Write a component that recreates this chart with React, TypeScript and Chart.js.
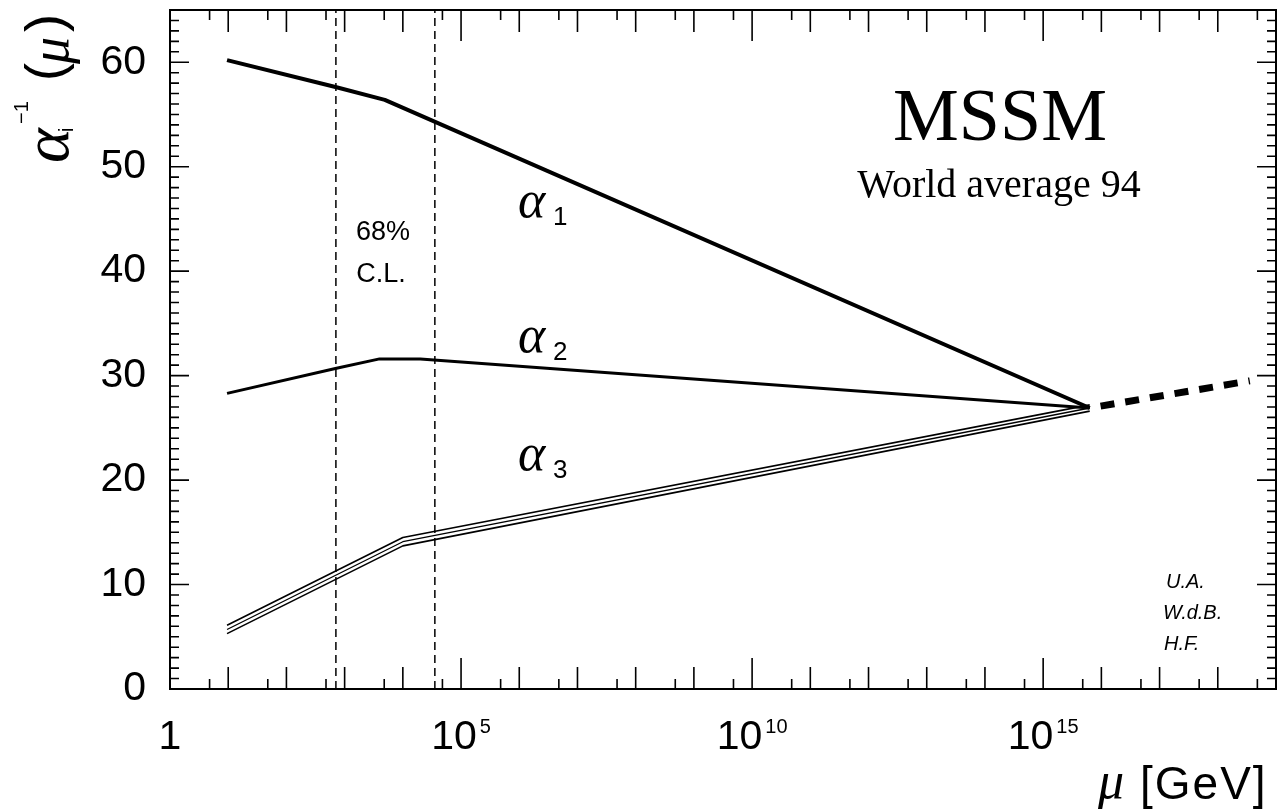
import React, { useEffect, useRef } from 'react';
import { Chart, registerables } from 'chart.js';

Chart.register(...registerables);

// ---- data (x = log10(mu / GeV), y = 1/alpha_i) ----
const LOG_MU_A1 = [0.98, 2.86, 3.69, 15.8];
const INV_ALPHA1 = [60.2, 57.6, 56.4, 26.9];

const LOG_MU_A2 = [0.98, 2.86, 3.6, 4.3, 15.8];
const INV_ALPHA2 = [28.3, 30.7, 31.6, 31.6, 26.9];

const LOG_MU_A3 = [0.98, 4.0, 15.8];
const INV_ALPHA3 = [5.7, 14.1, 26.9];
const INV_ALPHA3_ERR = [0.4, 0.4, 0.3];

const LOG_MU_GUT = [15.8, 18.55];
const INV_ALPHA_GUT = [26.9, 29.5];

const CL_LOG_MU = [2.85, 4.55];

// ---- axes ----
const X_MIN = 0;
const X_MAX = 19;
const Y_MIN = 0;
const Y_MAX = 65;
const Y_TICKS = [0, 10, 20, 30, 40, 50, 60];
const Y_MINOR_STEP = 1;
const X_LABEL_VALUES = [0, 5, 10, 15];
const X_LABEL_BASES = ['1', '10', '10', '10'];
const X_LABEL_EXPONENTS = ['', '5', '10', '15'];
const X_MAJOR_TICKS = [0, 5, 10, 15];
const X_DECADE_TICKS = [1, 2, 3, 4, 6, 7, 8, 9, 11, 12, 13, 14, 16, 17, 18];
const X_MINOR_TICKS = [0.68, 1.68, 2.68, 3.68, 4.68, 5.68, 6.68, 7.68, 8.68, 9.68, 10.68, 11.68, 12.68, 13.68, 14.68, 15.68, 16.68, 17.68, 18.68];

const SANS = '"Liberation Sans", Arial, Helvetica, sans-serif';
const SERIF = '"Liberation Serif", "Times New Roman", serif';

const pts = (xs: number[], ys: number[]) => xs.map((x, i) => ({ x, y: ys[i] }));

const overlayPlugin = {
  id: 'overlay',
  afterDatasetsDraw(chart: any) {
    const { ctx, chartArea: a, scales } = chart;
    const x = scales.x;
    const y = scales.y;
    ctx.save();
    ctx.strokeStyle = '#000';
    ctx.lineWidth = 1.6;
    ctx.beginPath();
    const vt = (v: number, len: number) => {
      const px = x.getPixelForValue(v);
      ctx.moveTo(px, a.bottom);
      ctx.lineTo(px, a.bottom - len);
      ctx.moveTo(px, a.top);
      ctx.lineTo(px, a.top + len);
    };
    X_MAJOR_TICKS.forEach((v) => vt(v, 31));
    X_DECADE_TICKS.forEach((v) => vt(v, 22));
    X_MINOR_TICKS.forEach((v) => vt(v, 10));
    const ht = (v: number, len: number) => {
      const py = y.getPixelForValue(v);
      ctx.moveTo(a.left, py);
      ctx.lineTo(a.left + len, py);
      ctx.moveTo(a.right, py);
      ctx.lineTo(a.right - len, py);
    };
    Y_TICKS.forEach((v) => ht(v, 19));
    for (let v = Y_MIN; v <= Y_MAX; v += Y_MINOR_STEP) {
      if (!Y_TICKS.includes(v)) ht(v, 9);
    }
    ctx.stroke();
    ctx.lineWidth = 2;
    ctx.strokeRect(a.left, a.top, a.right - a.left, a.bottom - a.top);
    ctx.restore();
  },
  afterDraw(chart: any) {
    const { ctx, scales } = chart;
    const x = scales.x;
    ctx.save();
    ctx.fillStyle = '#000';
    ctx.textBaseline = 'alphabetic';

    // x tick labels with superscript exponents
    X_LABEL_VALUES.forEach((v, i) => {
      const base = X_LABEL_BASES[i];
      const exp = X_LABEL_EXPONENTS[i];
      ctx.font = `41px ${SANS}`;
      const wb = ctx.measureText(base).width;
      ctx.font = `20px ${SANS}`;
      const we = exp ? ctx.measureText(exp).width + 3 : 0;
      const left = x.getPixelForValue(v) - (wb + we) / 2;
      ctx.textAlign = 'left';
      ctx.font = `41px ${SANS}`;
      ctx.fillText(base, left, 749);
      if (exp) {
        ctx.font = `20px ${SANS}`;
        ctx.fillText(exp, left + wb + 3, 733);
      }
    });

    // x axis title
    ctx.textAlign = 'left';
    ctx.font = `italic 52px ${SERIF}`;
    ctx.fillText('\u03bc', 1098, 798);
    ctx.font = `46px ${SANS}`;
    (ctx as any).letterSpacing = '2px';
    ctx.fillText('[GeV]', 1140, 799);
    (ctx as any).letterSpacing = '0px';

    // y axis title (rotated)
    ctx.save();
    ctx.translate(68, 163);
    ctx.rotate(-Math.PI / 2);
    ctx.textAlign = 'left';
    ctx.font = `italic 66px ${SERIF}`;
    ctx.fillText('\u03b1', 0, 0);
    ctx.font = `20px ${SANS}`;
    ctx.fillText('i', 31, 5);
    ctx.fillText('\u22121', 39, -40);
    ctx.font = `54px ${SANS}`;
    ctx.fillText('(', 82, -5);
    ctx.font = `italic 54px ${SERIF}`;
    ctx.fillText('\u03bc', 99, 0);
    ctx.font = `54px ${SANS}`;
    ctx.fillText(')', 131, -5);
    ctx.restore();

    // MSSM
    ctx.textAlign = 'center';
    ctx.font = `74px ${SERIF}`;
    ctx.fillText('MSSM', 1000, 140);
    ctx.font = `40px ${SERIF}`;
    ctx.fillText('World average 94', 999, 197);

    // 68% C.L.
    ctx.font = `27px ${SANS}`;
    ctx.fillText('68%', 383, 240);
    ctx.fillText('C.L.', 381, 282);

    // alpha labels
    ctx.textAlign = 'left';
    const alphaLabel = (sub: string, ax: number, ab: number, sb: number) => {
      ctx.font = `italic 52px ${SERIF}`;
      ctx.fillText('\u03b1', ax, ab);
      ctx.font = `26px ${SANS}`;
      ctx.fillText(sub, ax + 35, sb);
    };
    alphaLabel('1', 518, 217, 225);
    alphaLabel('2', 518, 352, 360);
    alphaLabel('3', 518, 470, 478);

    // authors
    ctx.font = `italic 20px ${SANS}`;
    ctx.fillText('U.A.', 1166, 588);
    ctx.fillText('W.d.B.', 1163, 619);
    ctx.fillText('H.F.', 1164, 650);

    ctx.restore();
  },
};

export default function App() {
  const canvasRef = useRef<HTMLCanvasElement | null>(null);

  useEffect(() => {
    if (!canvasRef.current) return;
    const line = (data: any[], extra: any = {}) => ({
      data,
      borderColor: '#000',
      backgroundColor: '#000',
      pointRadius: 0,
      tension: 0,
      fill: false,
      borderJoinStyle: 'round',
      ...extra,
    });
    const chart = new Chart(canvasRef.current, {
      type: 'line',
      data: {
        datasets: [
          line(pts(LOG_MU_A1, INV_ALPHA1), { label: 'alpha1', borderWidth: 4 }),
          line(pts(LOG_MU_A2, INV_ALPHA2), { label: 'alpha2', borderWidth: 3 }),
          line(pts(LOG_MU_A3, INV_ALPHA3), { label: 'alpha3', borderWidth: 1.3 }),
          line(
            LOG_MU_A3.map((xv, i) => ({ x: xv, y: INV_ALPHA3[i] + INV_ALPHA3_ERR[i] })),
            { label: 'alpha3 upper', borderWidth: 1.6 }
          ),
          line(
            LOG_MU_A3.map((xv, i) => ({ x: xv, y: INV_ALPHA3[i] - INV_ALPHA3_ERR[i] })),
            { label: 'alpha3 lower', borderWidth: 1.6 }
          ),
          line(pts(LOG_MU_GUT, INV_ALPHA_GUT), {
            label: 'GUT',
            borderWidth: 7,
            borderDash: [14, 11],
            borderDashOffset: 14,
            borderJoinStyle: 'miter',
          }),
          ...CL_LOG_MU.map((xv) =>
            line(
              [
                { x: xv, y: Y_MIN },
                { x: xv, y: Y_MAX },
              ],
              { label: '68% C.L.', borderWidth: 1.5, borderDash: [8, 5] }
            )
          ),
        ],
      },
      options: {
        animation: false,
        responsive: true,
        maintainAspectRatio: false,
        events: [],
        layout: { padding: { top: 10, right: 7, bottom: 123, left: 0 } },
        plugins: {
          legend: { display: false },
          tooltip: { enabled: false },
        },
        scales: {
          x: {
            type: 'linear',
            min: X_MIN,
            max: X_MAX,
            display: false,
          },
          y: {
            type: 'linear',
            min: Y_MIN,
            max: Y_MAX,
            afterBuildTicks: (s: any) => {
              s.ticks = Y_TICKS.map((v) => ({ value: v }));
            },
            afterFit: (s: any) => {
              s.width = 170;
              s.paddingTop = 0;
              s.paddingBottom = 0;
            },
            grid: { display: false, drawTicks: false },
            border: { display: false },
            ticks: {
              color: '#000',
              padding: 24,
              font: { family: SANS, size: 41 },
            },
          },
        },
      } as any,
      plugins: [overlayPlugin],
    });
    return () => chart.destroy();
  }, []);

  return (
    <div style={{ position: 'absolute', left: 0, top: 0, width: 1283, height: 812, background: '#fff' }}>
      <canvas ref={canvasRef} />
    </div>
  );
}
